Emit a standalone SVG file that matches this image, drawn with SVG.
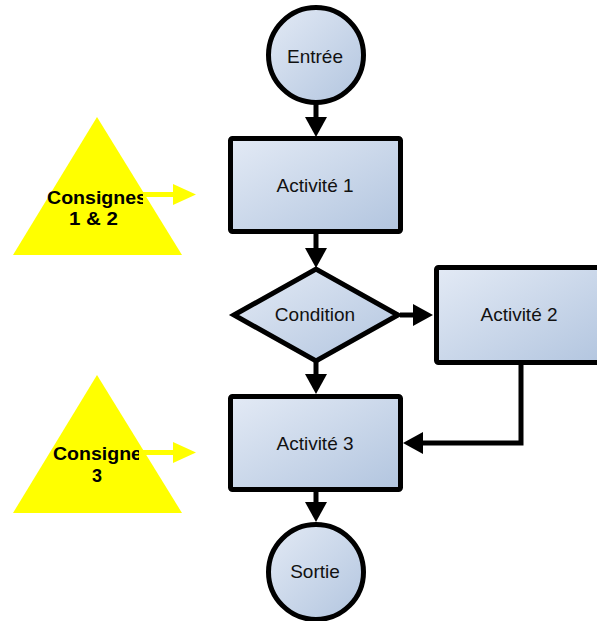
<svg xmlns="http://www.w3.org/2000/svg" width="597" height="621" viewBox="0 0 597 621">
<defs>
<linearGradient id="g" x1="0" y1="0" x2="1" y2="1">
<stop offset="0" stop-color="#e3eaf5"/>
<stop offset="1" stop-color="#b2c5df"/>
</linearGradient>
<marker id="ah" markerUnits="userSpaceOnUse" viewBox="0 0 20 22" markerWidth="20" markerHeight="22" refX="0" refY="11" orient="auto">
<path d="M0,0 L20,11 L0,22 z" fill="#000"/>
</marker>
<clipPath id="c1"><rect x="0" y="150" width="143" height="100"/></clipPath>
<clipPath id="c2"><rect x="0" y="420" width="139" height="80"/></clipPath>
<style>
.shape{fill:url(#g);stroke:#000;stroke-width:5}
.lbl{font-family:"Liberation Sans",Arial,sans-serif;font-size:19px;fill:#111;text-anchor:middle}
.tri{fill:#ffff00}
.cons{font-family:"Liberation Sans",Arial,sans-serif;font-size:18px;font-weight:bold;fill:#000}
.conn{fill:none;stroke:#000;stroke-width:5}
.ya{fill:#ffff00}
</style>
</defs>
<rect width="597" height="621" fill="#fff"/>
<g id="consignes12">
<polygon class="tri" points="97,117 182,255 13,255"/>
<g clip-path="url(#c1)">
<text class="cons" x="47" y="204" textLength="100" lengthAdjust="spacingAndGlyphs">Consignes</text>
</g>
<text class="cons" x="69" y="225" textLength="49" lengthAdjust="spacingAndGlyphs">1 &amp; 2</text>
<path class="ya" d="M143,192 H173 V184 L196,194.5 L173,205 V197 H143 z"/>
</g>
<g id="consigne3">
<polygon class="tri" points="97,375 182,513 13,513"/>
<g clip-path="url(#c2)">
<text class="cons" x="53" y="460" textLength="89" lengthAdjust="spacingAndGlyphs">Consigne</text>
</g>
<text class="cons" x="92" y="482" textLength="10" lengthAdjust="spacingAndGlyphs">3</text>
<path class="ya" d="M141,450 H173 V442 L196,452.5 L173,463 V455 H141 z"/>
</g>
<g id="connectors">
<line class="conn" x1="316" y1="103" x2="316" y2="117" marker-end="url(#ah)"/>
<line class="conn" x1="316" y1="233" x2="316" y2="248" marker-end="url(#ah)"/>
<line class="conn" x1="400" y1="315" x2="413" y2="315" marker-end="url(#ah)"/>
<line class="conn" x1="316" y1="360" x2="316" y2="374" marker-end="url(#ah)"/>
<path class="conn" d="M521,363 V443 H423" marker-end="url(#ah)"/>
<line class="conn" x1="316" y1="490" x2="316" y2="502" marker-end="url(#ah)"/>
</g>
<g id="entree">
<circle class="shape" cx="316" cy="55" r="47.5"/>
<text class="lbl" x="315" y="63">Entrée</text>
</g>
<g id="activite1">
<rect class="shape" x="230.5" y="138.5" width="170" height="93" rx="2"/>
<text class="lbl" x="315" y="192">Activité 1</text>
</g>
<g id="condition">
<polygon class="shape" points="234,315 316,269 398,315 316,361"/>
<text class="lbl" x="315" y="321">Condition</text>
</g>
<g id="activite2">
<rect class="shape" x="436.5" y="267.5" width="170" height="95" rx="2"/>
<text class="lbl" x="519" y="321">Activité 2</text>
</g>
<g id="activite3">
<rect class="shape" x="230.5" y="396.5" width="170" height="93" rx="2"/>
<text class="lbl" x="315" y="450">Activité 3</text>
</g>
<g id="sortie">
<circle class="shape" cx="316" cy="572" r="47.5"/>
<text class="lbl" x="315" y="578">Sortie</text>
</g>
</svg>
